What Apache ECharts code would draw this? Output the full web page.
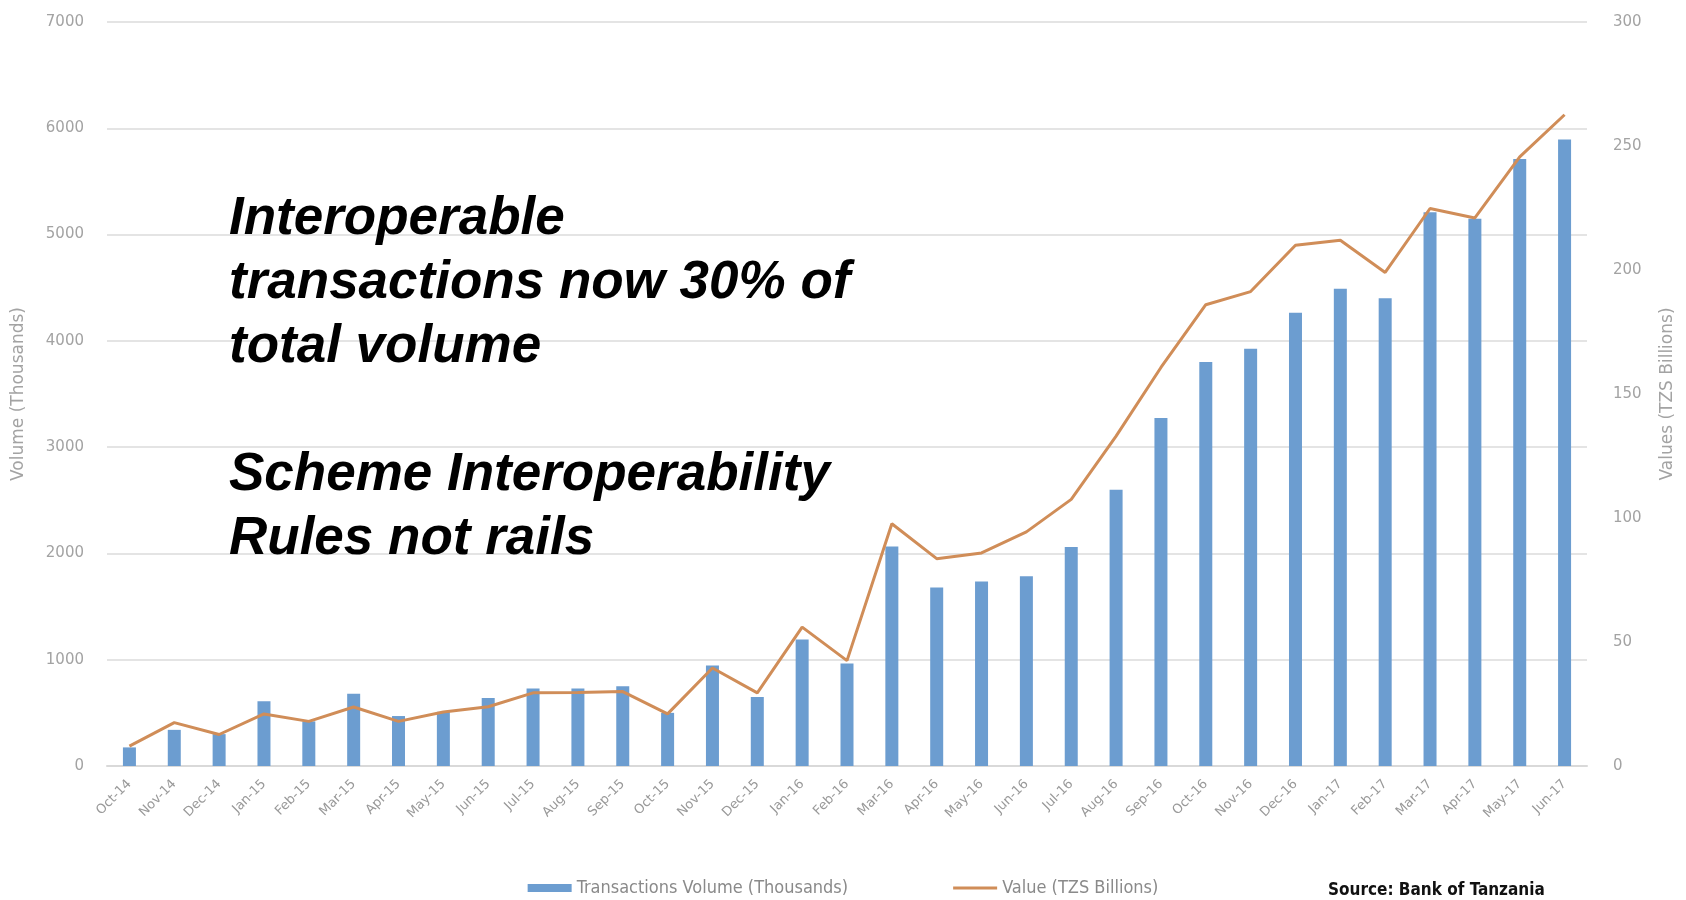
<!DOCTYPE html>
<html>
<head>
<meta charset="utf-8">
<script src="https://cdn.jsdelivr.net/npm/echarts@6/dist/echarts.min.js"></script>
<style>html,body{margin:0;padding:0;background:#fff}#c{width:1686px;height:900px}</style>
</head>
<body>
<div id="c"></div>
<script>
const categories = ["Oct-14","Nov-14","Dec-14","Jan-15","Feb-15","Mar-15","Apr-15","May-15","Jun-15","Jul-15","Aug-15","Sep-15","Oct-15","Nov-15","Dec-15","Jan-16","Feb-16","Mar-16","Apr-16","May-16","Jun-16","Jul-16","Aug-16","Sep-16","Oct-16","Nov-16","Dec-16","Jan-17","Feb-17","Mar-17","Apr-17","May-17","Jun-17"];
const volume = [175, 340, 300, 610, 420, 680, 470, 510, 640, 730, 730, 750, 500, 945, 650, 1190, 965, 2065, 1680, 1735, 1785, 2060, 2600, 3275, 3800, 3925, 4265, 4490, 4400, 5210, 5150, 5710, 5895];
const value = [8, 17.5, 12.7, 21, 18, 23.8, 18, 21.8, 23.9, 29.5, 29.6, 30, 21, 39.5, 29.5, 56, 42.5, 97.7, 83.6, 85.9, 94.4, 107.5, 133, 160.7, 186, 191.3, 210, 212, 199, 224.8, 221, 245.6, 262.6];
const volumeTicks = {min: 0, max: 7000, interval: 1000};
const valueTicks = {min: 0, max: 300, interval: 50};
const seriesNames = ["Transactions Volume (Thousands)", "Value (TZS Billions)"];
const overlayText = "Interoperable\ntransactions now 30% of\ntotal volume\n\nScheme Interoperability\nRules not rails";
const sourceText = "Source: Bank of Tanzania";

const chart = echarts.init(document.getElementById('c'));
const axisLabelStyle = {color: '#a3a3a3', fontSize: 15, fontFamily: 'DejaVu Sans'};
const nameStyle = {color: '#a3a3a3', fontSize: 17, fontFamily: 'DejaVu Sans'};
chart.setOption({
  animation: false,
  backgroundColor: '#ffffff',
  grid: {left: 107, right: 99, top: 22, bottom: 134},
  legend: {
    top: 874, left: 'center', itemGap: 105, itemWidth: 44, itemHeight: 8,
    textStyle: {color: '#8a8a8a', fontSize: 18, fontFamily: 'DejaVu Sans Condensed'},
    data: [{name: seriesNames[0], icon: 'rect'}, {name: seriesNames[1], icon: 'path://M0,0 H44 V3 H0 Z'}]
  },
  xAxis: {
    type: 'category', data: categories,
    axisLine: {lineStyle: {color: '#d9d9d9', width: 2}},
    axisTick: {show: false},
    axisLabel: Object.assign({rotate: 45, interval: 0, margin: 16}, axisLabelStyle, {fontSize: 13, color: '#999999'})
  },
  yAxis: [
    Object.assign({
      type: 'value', name: 'Volume (Thousands)', nameLocation: 'middle', nameGap: 80, nameRotate: 90,
      nameTextStyle: nameStyle,
      axisLine: {show: false}, axisTick: {show: false},
      axisLabel: Object.assign({margin: 23, formatter: v => String(v)}, axisLabelStyle),
      splitLine: {lineStyle: {color: '#e4e4e4', width: 2}}
    }, volumeTicks),
    Object.assign({
      type: 'value', name: 'Values (TZS Billions)', nameLocation: 'middle', nameGap: 72, nameRotate: 90,
      nameTextStyle: nameStyle,
      position: 'right',
      axisLine: {show: false}, axisTick: {show: false},
      axisLabel: Object.assign({margin: 26, formatter: v => String(v)}, axisLabelStyle),
      splitLine: {show: false}
    }, valueTicks)
  ],
  series: [
    {name: seriesNames[0], type: 'bar', data: volume, barWidth: 13, yAxisIndex: 0,
     itemStyle: {color: '#6c9dd0'}},
    {name: seriesNames[1], type: 'line', data: value, yAxisIndex: 1, symbol: 'none',
     lineStyle: {color: '#d08d58', width: 3}, itemStyle: {color: '#d08d58'}}
  ],
  graphic: [
    {type: 'text', left: 229, top: 187, z: 100,
     style: {text: overlayText, fill: '#000', font: 'italic bold 53px "Liberation Sans"', lineHeight: 64}},
    {type: 'text', left: 1328, top: 882, z: 100,
     style: {text: sourceText, fill: '#111', font: 'bold 17px "DejaVu Sans Condensed"'}}
  ]
});
</script>
</body>
</html>
